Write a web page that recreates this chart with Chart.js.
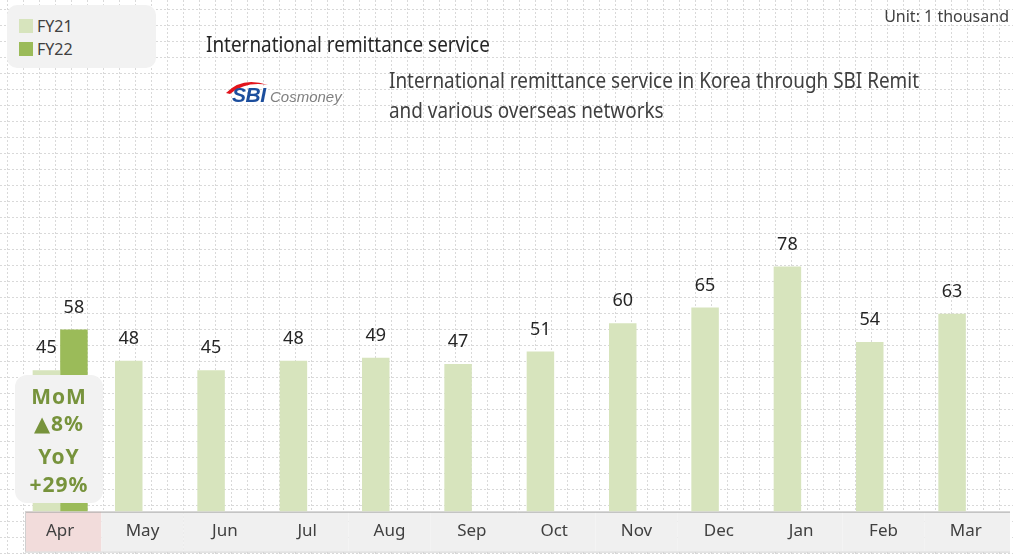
<!DOCTYPE html>
<html><head><meta charset="utf-8">
<script src="https://cdn.jsdelivr.net/npm/chart.js@4.4.1/dist/chart.umd.min.js"></script>
<style>
html,body{margin:0;padding:0;background:#fff;}
#wrap{position:relative;width:1013px;height:554px;overflow:hidden;font-family:"Noto Sans","DejaVu Sans",sans-serif;}
#c{position:absolute;left:0;top:0;}
#legend{position:absolute;left:7px;top:5px;width:149px;height:63px;background:#f2f2f2;border-radius:10px;}
.li{position:absolute;left:12px;height:22px;line-height:22px;font-size:16px;color:#404040;}
.li span.sw{position:absolute;left:0;top:4px;width:14px;height:14px;}
.li span.tx{position:absolute;left:18px;top:0;white-space:nowrap;}
#unit{position:absolute;right:4px;top:5px;font-size:16px;line-height:22px;color:#404040;white-space:nowrap;}
#title{position:absolute;left:206px;top:33px;font-size:21px;line-height:22px;color:#262626;white-space:nowrap;transform:scaleX(0.9);transform-origin:0 0;}
#sub{position:absolute;left:389px;top:65px;font-size:21px;line-height:30px;color:#404040;white-space:nowrap;transform:scaleX(0.9);transform-origin:0 0;}
#logo{position:absolute;left:222px;top:74px;width:130px;height:36px;}
#logo .sbi{position:absolute;left:10px;top:10px;font-family:"Liberation Sans",Arial,sans-serif;font-weight:bold;font-style:italic;font-size:21px;line-height:22px;color:#1c4e9d;letter-spacing:-0.5px;}
#logo .cos{position:absolute;left:48px;top:14px;font-family:"Liberation Sans",Arial,sans-serif;font-style:italic;font-size:15px;line-height:18px;color:#808080;}
#logo svg{position:absolute;left:0;top:0;}
#mom{position:absolute;left:15px;top:375px;width:88px;height:128px;background:#f2f2f2;border-radius:12px;}
#mom div{position:absolute;left:0;width:88px;text-align:center;font-size:21px;line-height:28px;font-weight:bold;letter-spacing:1px;color:#77933c;white-space:nowrap;}
</style></head><body>
<div id="wrap">
<canvas id="c" width="1013" height="554"></canvas>
<div id="legend"></div>
<div id="unit"></div>
<div id="title">International remittance service</div>
<div id="logo">
  <svg width="60" height="36" viewBox="0 0 60 36"><path d="M4 19 Q20 2 46 11 Q24 7 8 20 Z" fill="#e2141c"/></svg>
  <div class="sbi">SBI</div><div class="cos">Cosmoney</div>
</div>
<div id="sub">International remittance service in Korea through SBI Remit<br>and various overseas networks</div>
<div id="mom"></div>
</div>
<script>
const categories = ['Apr','May','Jun','Jul','Aug','Sep','Oct','Nov','Dec','Jan','Feb','Mar'];
const fy21 = [45,48,45,48,49,47,51,60,65,78,54,63];
const fy22 = [58,null,null,null,null,null,null,null,null,null,null,null];
const seriesNames = ['FY21','FY22'];
const seriesColors = ['#d7e4bd','#9bbb59'];
const highlightCategory = 'Apr';
const momLines = ['MoM','\u25B28%','YoY','+29%'];
const unitText = 'Unit: 1 thousand';

const FONT = '"Noto Sans","DejaVu Sans",sans-serif';

const bgGrid = {
  id:'bgGrid',
  beforeDraw(chart){
    const ctx = chart.ctx, W = chart.width, H = chart.height;
    ctx.save();
    ctx.fillStyle = '#ffffff';
    ctx.fillRect(0,0,W,H);
    ctx.strokeStyle = '#d9d9d9';
    ctx.lineWidth = 1;
    ctx.setLineDash([2,2]);
    for (let x = 7; x < W; x += 16){ ctx.beginPath(); ctx.moveTo(x+0.5,0); ctx.lineTo(x+0.5,H); ctx.stroke(); }
    for (let y = 9; y < H; y += 16){ ctx.beginPath(); ctx.moveTo(0,y+0.5); ctx.lineTo(W,y+0.5); ctx.stroke(); }
    ctx.setLineDash([]);
    // axis band
    const xs = chart.scales.x;
    const top = chart.chartArea.bottom, bot = top + 40;
    const left = 25, right = 1010;
    const n = chart.data.labels.length;
    for (let i = 0; i < n; i++){
      const c = xs.getPixelForValue(i);
      let l = i === 0 ? left : (xs.getPixelForValue(i-1) + c)/2;
      let r = i === n-1 ? right : (xs.getPixelForValue(i+1) + c)/2;
      ctx.fillStyle = chart.data.labels[i] === highlightCategory ? '#f2dcdb' : '#f0f0f0';
      ctx.fillRect(l, top, r-l, bot-top);
    }
    ctx.strokeStyle = '#a6a6a6';
    ctx.beginPath(); ctx.moveTo(left, top+0.5); ctx.lineTo(right, top+0.5); ctx.stroke();
    ctx.strokeStyle = '#d0d0d0';
    ctx.beginPath(); ctx.moveTo(left, bot+0.5); ctx.lineTo(right, bot+0.5); ctx.stroke();
    ctx.beginPath(); ctx.moveTo(left+0.5, top); ctx.lineTo(left+0.5, bot); ctx.stroke();
    ctx.restore();
  }
};

const valueLabels = {
  id:'valueLabels',
  afterDatasetsDraw(chart){
    const ctx = chart.ctx;
    ctx.save();
    ctx.font = '18px ' + FONT;
    ctx.fillStyle = '#262626';
    ctx.textAlign = 'center';
    ctx.textBaseline = 'middle';
    chart.data.datasets.forEach((ds,i)=>{
      const meta = chart.getDatasetMeta(i);
      meta.data.forEach((bar,j)=>{
        const v = ds.data[j];
        if (v === null || v === undefined) return;
        ctx.fillText(String(v), bar.x, bar.y - 22);
      });
    });
    ctx.restore();
  }
};

const chart = new Chart(document.getElementById('c'), {
  type:'bar',
  data:{
    labels: categories,
    datasets: [
      {label: seriesNames[0], data: fy21, backgroundColor: seriesColors[0], categoryPercentage:0.668, barPercentage:1.0},
      {label: seriesNames[1], data: fy22, backgroundColor: seriesColors[1], categoryPercentage:0.668, barPercentage:1.0}
    ]
  },
  options:{
    responsive:false,
    devicePixelRatio:1,
    animation:false,
    layout:{padding:{left:19,right:6,top:119,bottom:4}},
    scales:{
      x:{grid:{display:false,drawTicks:false},border:{display:false},
         ticks:{font:{size:17,family:FONT},color:'#404040',padding:9}},
      y:{display:false,min:0,max:125}
    },
    plugins:{legend:{display:false},tooltip:{enabled:false}}
  },
  plugins:[bgGrid, valueLabels]
});

// HTML legend built from the chart's datasets
const lg = document.getElementById('legend');
chart.data.datasets.forEach((ds,i)=>{
  const d = document.createElement('div');
  d.className = 'li';
  d.style.top = (10 + i*23) + 'px';
  d.innerHTML = '<span class="sw" style="background:'+ds.backgroundColor+'"></span><span class="tx">'+ds.label+'</span>';
  lg.appendChild(d);
});
const mom = document.getElementById('mom');
const momCenters = [21, 48, 81, 109];
momLines.forEach((t,i)=>{
  const d = document.createElement('div');
  d.textContent = t;
  d.style.top = (momCenters[i]-14) + 'px';
  mom.appendChild(d);
});
document.getElementById('unit').textContent = unitText;
</script>
</body></html>
